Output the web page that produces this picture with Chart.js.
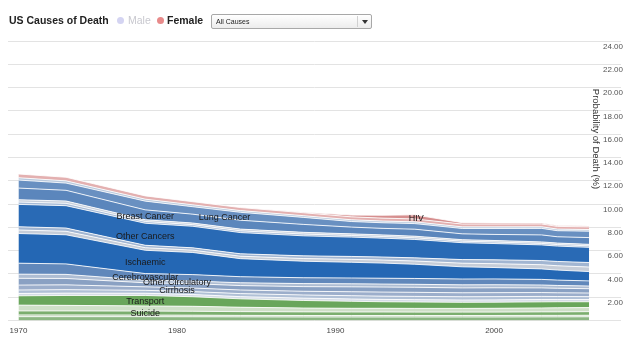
<!DOCTYPE html>
<html>
<head>
<meta charset="utf-8">
<script src="https://cdn.jsdelivr.net/npm/chart.js@4.4.0/dist/chart.umd.min.js"></script>
<style>
  body { margin: 0; background: #fff; font-family: "Liberation Sans", Arial, sans-serif; }
  #wrap { position: relative; width: 640px; height: 360px; overflow: hidden; }
  #chart { position: absolute; left: 0; top: 0; }
  .title { position: absolute; left: 9px; top: 14px; font-size: 10.5px; line-height: 12px; font-weight: bold; color: #222; white-space: nowrap; }
  .dot { position: absolute; top: 17px; width: 7px; height: 7px; border-radius: 50%; }
  .lg { position: absolute; top: 14px; font-size: 10.5px; line-height: 12px; white-space: nowrap; }
  .select { position: absolute; left: 211px; top: 14px; width: 159px; height: 13px; border: 1px solid #a8a8a8; border-radius: 2px;
            background: linear-gradient(#ffffff, #ececec); font-size: 7px; line-height: 13px; color: #222; }
  .select span { position: absolute; left: 4px; top: 0; }
  .select .sep { position: absolute; left: 145px; top: 1px; width: 1px; height: 11px; background: #d0d0d0; }
  .select .arrow { position: absolute; left: 150px; top: 5px; width: 0; height: 0; border-left: 3px solid transparent;
                   border-right: 3px solid transparent; border-top: 4px solid #333; }
</style>
</head>
<body>
<div id="wrap">
  <canvas id="chart" width="640" height="360"></canvas>
  <div class="title">US Causes of Death</div>
  <div class="dot" style="left:117px; background:#d4d4f2;"></div>
  <div class="lg" style="left:128px; color:#c8c8cf;">Male</div>
  <div class="dot" style="left:157px; background:#e88a8a;"></div>
  <div class="lg" style="left:167px; color:#222; font-weight:bold;">Female</div>
  <div class="select"><span>All Causes</span><div class="sep"></div><div class="arrow"></div></div>
</div>
<script>
/* DATA - probability of death (%), female */
const years = [1970, 1973, 1978, 1981, 1984, 1988, 1991, 1993, 1995, 1998, 2000, 2003, 2004, 2006];

const otherInjuries   = [0.33, 0.33, 0.33, 0.32, 0.31, 0.30, 0.30, 0.30, 0.30, 0.30, 0.30, 0.31, 0.31, 0.32];
const homicide        = [0.15, 0.15, 0.14, 0.14, 0.13, 0.13, 0.13, 0.13, 0.13, 0.13, 0.13, 0.13, 0.13, 0.13];
const suicide         = [0.34, 0.34, 0.34, 0.33, 0.32, 0.31, 0.30, 0.30, 0.29, 0.29, 0.29, 0.30, 0.30, 0.31];
const poisoning       = [0.50, 0.48, 0.44, 0.43, 0.38, 0.33, 0.32, 0.32, 0.32, 0.32, 0.33, 0.34, 0.35, 0.35];
const transport       = [0.80, 0.85, 0.90, 0.82, 0.72, 0.65, 0.60, 0.56, 0.55, 0.52, 0.52, 0.52, 0.52, 0.50];
const otherNcd        = [0.20, 0.20, 0.19, 0.19, 0.19, 0.20, 0.20, 0.20, 0.20, 0.20, 0.20, 0.20, 0.19, 0.19];
const cirrhosis       = [0.30, 0.30, 0.25, 0.25, 0.26, 0.27, 0.28, 0.28, 0.28, 0.28, 0.28, 0.27, 0.26, 0.25];
const respiratory     = [0.42, 0.41, 0.30, 0.31, 0.31, 0.32, 0.34, 0.35, 0.35, 0.34, 0.34, 0.33, 0.32, 0.31];
const otherCirculatory= [0.58, 0.55, 0.35, 0.37, 0.38, 0.40, 0.42, 0.43, 0.43, 0.42, 0.42, 0.40, 0.39, 0.37];
const hypertensive    = [0.36, 0.35, 0.22, 0.23, 0.24, 0.26, 0.26, 0.26, 0.26, 0.26, 0.26, 0.25, 0.24, 0.23];
const cerebrovascular = [0.94, 0.90, 0.57, 0.55, 0.52, 0.50, 0.50, 0.50, 0.50, 0.50, 0.50, 0.48, 0.46, 0.44];
const ischaemic       = [2.55, 2.50, 2.00, 1.90, 1.55, 1.42, 1.35, 1.30, 1.22, 1.05, 0.98, 0.90, 0.86, 0.80];
const diabetes        = [0.30, 0.30, 0.22, 0.20, 0.21, 0.23, 0.25, 0.26, 0.28, 0.31, 0.33, 0.36, 0.37, 0.39];
const neurological    = [0.28, 0.28, 0.21, 0.20, 0.21, 0.23, 0.25, 0.26, 0.27, 0.31, 0.33, 0.36, 0.37, 0.39];
const otherCancers    = [1.92, 1.92, 1.89, 1.85, 1.82, 1.72, 1.66, 1.62, 1.58, 1.45, 1.40, 1.34, 1.32, 1.30];
const colonCancer     = [0.20, 0.20, 0.15, 0.14, 0.15, 0.15, 0.14, 0.14, 0.14, 0.13, 0.13, 0.13, 0.13, 0.13];
const stomachCancer   = [0.20, 0.20, 0.15, 0.14, 0.15, 0.15, 0.14, 0.14, 0.14, 0.13, 0.13, 0.13, 0.13, 0.13];
const breastCancer    = [1.00, 0.92, 0.85, 0.76, 0.76, 0.68, 0.58, 0.56, 0.60, 0.50, 0.52, 0.60, 0.54, 0.58];
const lungCancer      = [0.69, 0.62, 0.75, 0.64, 0.68, 0.60, 0.48, 0.48, 0.48, 0.46, 0.51, 0.56, 0.52, 0.55];
const otherConditions = [0.20, 0.19, 0.17, 0.16, 0.15, 0.15, 0.15, 0.15, 0.15, 0.14, 0.14, 0.14, 0.14, 0.14];
const infectious      = [0.32, 0.31, 0.28, 0.27, 0.26, 0.25, 0.25, 0.25, 0.25, 0.24, 0.24, 0.24, 0.23, 0.23];
const hiv             = [0.00, 0.00, 0.00, 0.00, 0.00, 0.05, 0.15, 0.25, 0.35, 0.12, 0.10, 0.08, 0.07, 0.07];

const xTicks = [1970, 1980, 1990, 2000];

/* band names printed on the chart, with where they sit (year, value) */
const bandLabels  = ['Breast Cancer', 'Lung Cancer', 'Other Cancers', 'Ischaemic', 'Cerebrovascular',
                     'Other Circulatory', 'Cirrhosis', 'Transport', 'Suicide', 'HIV'];
const labelYears  = [1978.0, 1983.0, 1978.0, 1978.0, 1978.0, 1980.0, 1980.0, 1978.0, 1978.0, 1995.1];
const labelValues = [8.93, 8.88, 7.21, 5.02, 3.73, 3.26, 2.58, 1.67, 0.56, 8.76];

/* layers bottom -> top */
const layers = [
  ['Other Injuries', otherInjuries, '#8cb783'],
  ['Homicide', homicide, '#b7d0ae'],
  ['Suicide', suicide, '#7bae6e'],
  ['Poisoning', poisoning, '#cfe0c8'],
  ['Transport', transport, '#69a65b'],
  ['Other NCD', otherNcd, '#d5dce7'],
  ['Cirrhosis', cirrhosis, '#b0c0d6'],
  ['Respiratory', respiratory, '#9caecb'],
  ['Other Circulatory', otherCirculatory, '#8aa1c3'],
  ['Hypertensive', hypertensive, '#aebdd3'],
  ['Cerebrovascular', cerebrovascular, '#6188bb'],
  ['Ischaemic', ischaemic, '#2467b4'],
  ['Diabetes', diabetes, '#c6cdd8'],
  ['Neurological', neurological, '#a2b6d2'],
  ['Other Cancers', otherCancers, '#296ab5'],
  ['Colon Cancer', colonCancer, '#a7bbd6'],
  ['Stomach Cancer', stomachCancer, '#c7cfdb'],
  ['Breast Cancer', breastCancer, '#5b86bc'],
  ['Lung Cancer', lungCancer, '#6990c1'],
  ['Other Conditions', otherConditions, '#b9c9dd'],
  ['Infectious', infectious, '#e3b0b0'],
  ['HIV', hiv, '#d68f8f']
];

/* text drawn on top: band names, year labels, axis title */
const overlay = {
  id: 'overlay',
  afterDatasetsDraw(chart) {
    const { ctx, chartArea } = chart;
    const x = chart.scales.x, y = chart.scales.y;
    ctx.save();
    ctx.textAlign = 'center';
    ctx.textBaseline = 'middle';
    ctx.font = '9px "Liberation Sans", Arial, sans-serif';
    ctx.fillStyle = '#1a1a1a';
    bandLabels.forEach(function(t, i) {
      ctx.fillText(t, x.getPixelForValue(labelYears[i]), y.getPixelForValue(labelValues[i]));
    });
    ctx.font = '8px "Liberation Sans", Arial, sans-serif';
    ctx.fillStyle = '#444';
    xTicks.forEach(function(v) {
      ctx.fillText(String(v), x.getPixelForValue(v), chartArea.bottom + 10.5);
    });
    ctx.font = '9.5px "Liberation Sans", Arial, sans-serif';
    ctx.fillStyle = '#333';
    ctx.translate(chartArea.right - 25, chartArea.top + 98);
    ctx.rotate(Math.PI / 2);
    ctx.fillText('Probability of Death (%)', 0, 0);
    ctx.restore();
  }
};

const chart = new Chart(document.getElementById('chart'), {
  type: 'line',
  data: {
    labels: years,
    datasets: layers.map(function(l, i) {
      return {
        label: l[0],
        data: l[1],
        backgroundColor: l[2],
        borderColor: 'rgba(255,255,255,0.85)',
        borderWidth: 1,
        pointRadius: 0,
        tension: 0,
        fill: i === 0 ? 'origin' : '-1'
      };
    })
  },
  options: {
    responsive: false,
    animation: false,
    layout: { padding: { left: 8, right: 15, top: 41, bottom: 39.5 } },
    plugins: { legend: { display: false }, tooltip: { enabled: false } },
    scales: {
      x: { type: 'linear', min: 1969.34, max: 2008.01, display: false },
      y: {
        position: 'right',
        stacked: true,
        min: 0,
        max: 24,
        grid: { color: '#e3e3e3', drawTicks: false },
        border: { display: false },
        ticks: {
          stepSize: 2,
          mirror: true,
          padding: 2,
          labelOffset: 5.5,
          color: '#555',
          font: { size: 8, family: '"Liberation Sans", Arial, sans-serif' },
          callback: function(v) { return v === 0 ? '' : v.toFixed(2); }
        }
      }
    }
  },
  plugins: [overlay]
});
</script>
</body>
</html>
